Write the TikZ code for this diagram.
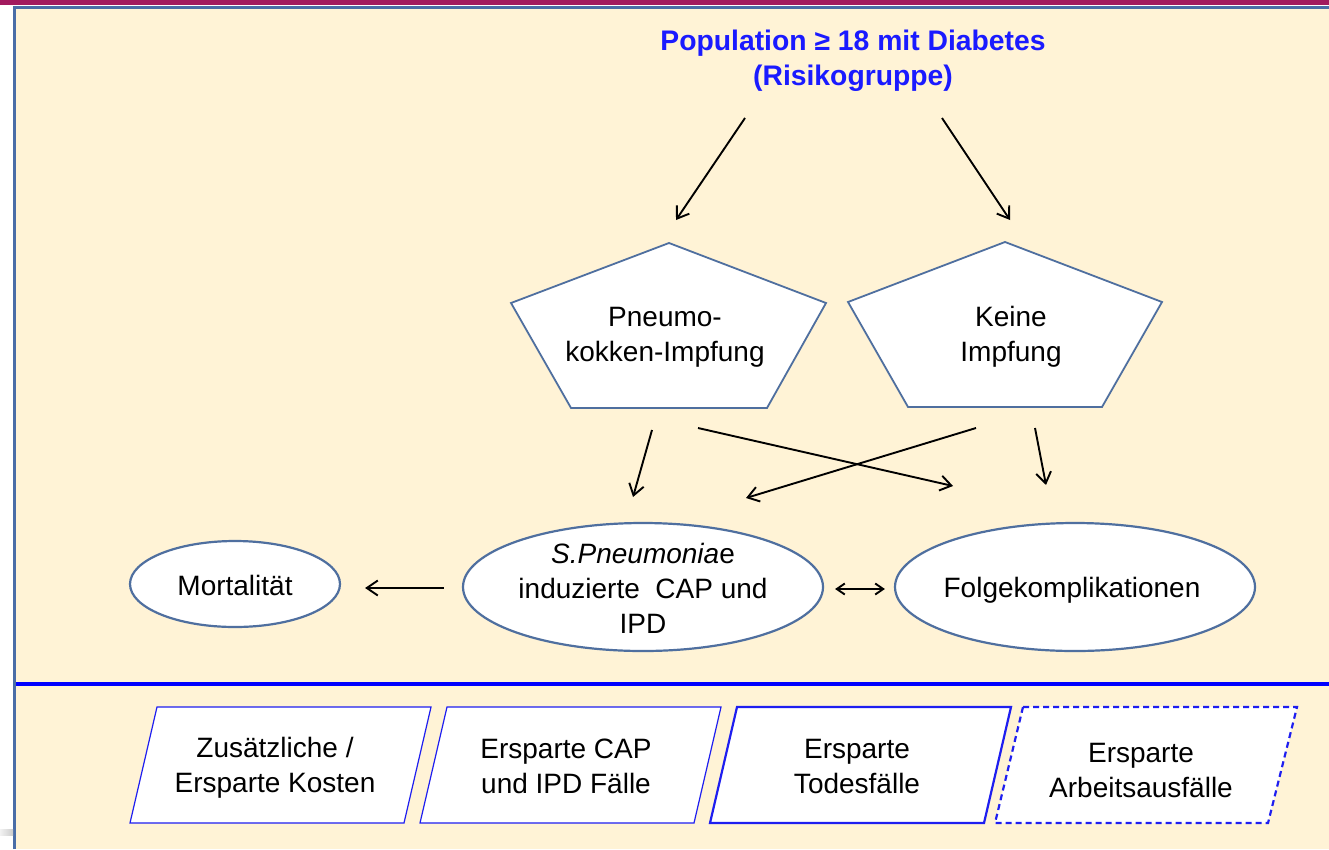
\documentclass[tikz,border=0pt]{standalone}
\usepackage{fontspec}
\setmainfont{Liberation Sans}
\usetikzlibrary{arrows.meta,shapes.geometric}
\definecolor{beige}{HTML}{FFF3D6}
\definecolor{magentabar}{HTML}{A21A5E}
\definecolor{borderblue}{HTML}{4A6DA7}
\definecolor{slate}{HTML}{4F6F9F}
\definecolor{titleblue}{HTML}{1A1AFF}
\definecolor{pblue}{HTML}{1E1EF0}
\begin{document}
\begin{tikzpicture}[x=1pt,y=-1pt,
  lbl/.style={font=\fontsize{28}{35}\selectfont, align=center, inner sep=0pt},
  ttl/.style={font=\bfseries\fontsize{28.3}{35}\selectfont, text=titleblue, align=center, inner sep=0pt},
  arr/.style={-{Straight Barb[length=11pt,width=15pt]}, line width=1.9pt},
  darr/.style={{Straight Barb[length=8pt,width=11pt]}-{Straight Barb[length=8pt,width=11pt]}, line width=1.9pt},
  ell/.style={ellipse, draw=slate, line width=2.2pt, fill=white, inner sep=0pt},
  pent/.style={draw=slate, line width=1.8pt, fill=white, line join=miter},
  para/.style={draw=pblue, fill=white, line width=1.2pt}]
\useasboundingbox (0,0) rectangle (1329,849);
% background
\fill[magentabar] (0,0) rectangle (1329,4.5);
\fill[beige] (14,7) rectangle (1329,849);
\draw[borderblue, line width=3.5pt] (14.5,849) -- (14.5,7.5) -- (1329,7.5);
\shade[left color=gray!10, right color=gray!40] (0,829) rectangle (13,835);
\draw[blue, line width=4pt] (16,683.5) -- (1329,683.5);
% title
\node[ttl] (pop) at (853,61) {Population ≥ 18 mit Diabetes\\(Risikogruppe)};
% pentagons
\draw[pent] (669,243) -- (826,303) -- (767,408) -- (571,408) -- (511,303) -- cycle;
\draw[pent] (1005,242) -- (1162,302) -- (1102,407) -- (908,407) -- (848,302) -- cycle;
\node[lbl] (pv) at (665,337) {Pneumo-\\kokken-Impfung};
\node[lbl] (kv) at (1011,337) {Keine\\Impfung};
% ellipses
\node[ell, minimum width=210pt, minimum height=86pt] (mort) at (235,584) {};
\node[lbl] (mortt) at (235,585) {Mortalität};
\node[ell, minimum width=360pt, minimum height=128pt] (sp) at (643,587) {};
\node[lbl] (spt) at (643,588) {\textit{S.Pneumonia}e\\induzierte~~CAP und\\IPD};
\node[ell, minimum width=360pt, minimum height=128pt] (fk) at (1075,587) {};
\node[lbl] (fkt) at (1072,590) {Folgekomplikationen};
% arrow end points
\coordinate (a1s) at (745,118); \coordinate (a1e) at (676,220);
\coordinate (a2s) at (942,118); \coordinate (a2e) at (1010,220);
\coordinate (a3s) at (652,430); \coordinate (a3e) at (633,497);
\coordinate (a4s) at (698,428); \coordinate (a4e) at (953,486);
\coordinate (a5s) at (976,428); \coordinate (a5e) at (746,498);
\coordinate (a6s) at (1035,428); \coordinate (a6e) at (1046,485);
\draw[arr] (a1s) -- (a1e);
\draw[arr] (a2s) -- (a2e);
\draw[arr] (a3s) -- (a3e);
\draw[arr] (a4s) -- (a4e);
\draw[arr] (a5s) -- (a5e);
\draw[arr] (a6s) -- (a6e);
\draw[arr, shorten <=18pt, shorten >=24pt] ([yshift=-1pt]sp.west) -- ([yshift=-1pt]sp.west -| mort.east);
\draw[darr, shorten <=11pt, shorten >=9pt] ([yshift=-2pt]sp.east) -- ([yshift=-2pt]fk.west);
% bottom parallelograms
\draw[para] (157,707) -- (431,707) -- (404,823) -- (130,823) -- cycle;
\node[lbl] (p1) at (275,768) {Zusätzliche /\\Ersparte Kosten};
\draw[para] (447,707) -- (721,707) -- (694,823) -- (420,823) -- cycle;
\node[lbl] (p2) at (566,766) {Ersparte CAP\\und IPD Fälle};
\draw[para, line width=2.2pt] (737,707) -- (1011,707) -- (984,823) -- (710,823) -- cycle;
\node[lbl] (p3) at (857,766) {Ersparte\\Todesfälle};
\draw[para, line width=2.2pt, dash pattern=on 6pt off 4pt] (1023,707) -- (1297,707) -- (1268,823) -- (995,823) -- cycle;
\node[lbl] (p4) at (1141,770) {Ersparte\\Arbeitsausfälle};
\end{tikzpicture}
\end{document}
